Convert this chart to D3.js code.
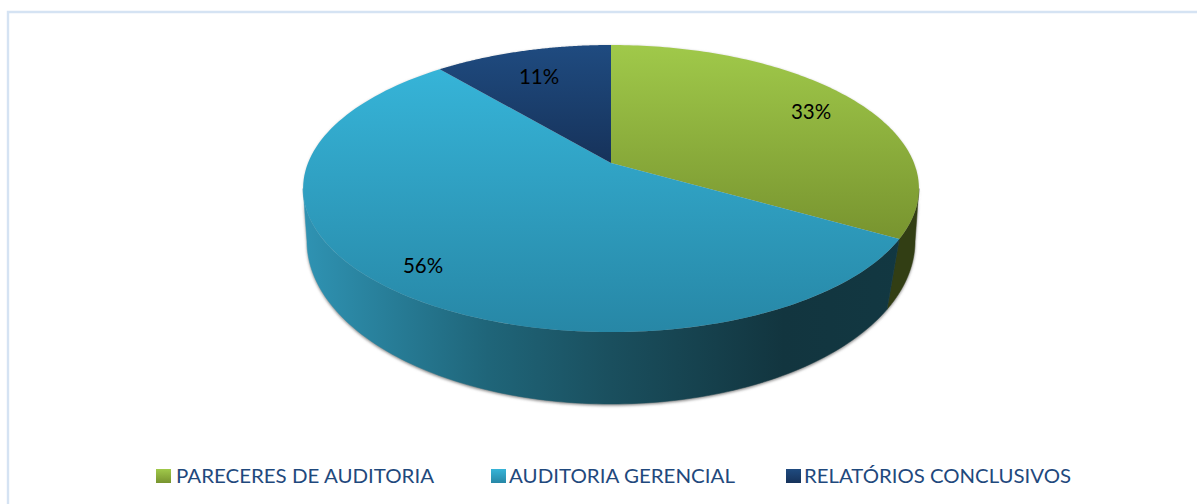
<!DOCTYPE html>
<html><head><meta charset="utf-8">
<style>html,body{margin:0;padding:0;background:#fff}svg{display:block}</style>
<script src="https://cdn.jsdelivr.net/npm/d3@7"></script>
</head><body>
<svg id="c" width="1197" height="504"></svg>
<script>
const categories = ["PARECERES DE AUDITORIA", "AUDITORIA GERENCIAL", "RELATÓRIOS CONCLUSIVOS"];
const values = [33.3, 55.6, 11.1];
const labels = ["33%", "56%", "11%"];
const topColors = [["#a0c94a", "#78942f"], ["#36b4d8", "#2787a6"], ["#1f4b80", "#16325a"]];
const blueWall = [[0,"#2f93b3"],[0.3,"#1f6579"],[0.5,"#1a4f5e"],[0.78,"#12353f"],[1,"#123842"]];
const greenWall = "#323e14";
const navyWall = "#16325a";
const legendX = [156, 491, 786];
const legendTextX = [176, 509, 804];
const legendTextW = [258, 226, 267];

const svg = d3.select("#c"), defs = svg.append("defs");
const topRim = {x0:611, y0:163, b:303, a:139, k:0.178};
const botRim = {x0:611, y0:224.7, b:302.5, a:161.4, k:0.1};
const project = (rim, t) => {
  const X = Math.sin(t), Y = -Math.cos(t), s = 1/(1-rim.k*Y);
  return [rim.x0 + rim.b*X*s, rim.y0 + rim.a*Y*s];
};
const line = d3.line();
const arcPts = (rim, a0, a1) => d3.range(0, 121).map(i => project(rim, a0 + (a1-a0)*i/120));
const rightExt = rim => Math.PI/2 + Math.asin(rim.k);
const leftExt = rim => 2*Math.PI - rightExt(rim);
const arcs = d3.pie().sort(null).value(d => d)(values);

const lg = (id, x1,y1,x2,y2, stops, units) => {
  const g = defs.append("linearGradient").attr("id", id)
    .attr("x1",x1).attr("y1",y1).attr("x2",x2).attr("y2",y2);
  if (units) g.attr("gradientUnits", units);
  stops.forEach(([o,c]) => g.append("stop").attr("offset",o).attr("stop-color",c));
};
lg("wall", 303,0,919,0, blueWall, "userSpaceOnUse");
topColors.forEach((c,i) => {
  lg("top"+i, 0,0,0,1, [[0,c[0]],[1,c[1]]]);
  lg("sw"+i, 0,0,0,1, [[0,c[0]],[1,c[1]]]);
});
defs.append("filter").attr("id","blur").attr("x","-5%").attr("y","-5%").attr("width","110%").attr("height","110%")
  .append("feGaussianBlur").attr("stdDeviation",1.6);
defs.append("filter").attr("id","blurTop").attr("x","-5%").attr("y","-5%").attr("width","110%").attr("height","110%")
  .append("feGaussianBlur").attr("stdDeviation",0.8);

// frame
svg.append("path").attr("d","M8 504V12H1197").attr("fill","none").attr("stroke","#d5e3f3").attr("stroke-width",2.4);

// soft shadows
svg.append("path").attr("d", line(arcPts(topRim, 0, 2*Math.PI))+"Z")
  .attr("fill","#d8d8d8").attr("filter","url(#blurTop)");
const hull = arcPts(topRim, rightExt(topRim), leftExt(topRim)).reverse()
  .concat(arcPts(botRim, rightExt(botRim), leftExt(botRim)).reverse().reverse());
svg.append("path").attr("d", line(hull)+"Z").attr("transform","translate(0,1.5)")
  .attr("fill","#808080").attr("filter","url(#blur)");

// walls
const wallColor = i => i===1 ? "url(#wall)" : i===0 ? greenWall : navyWall;
arcs.forEach((d,i) => {
  const t0 = Math.max(d.startAngle, rightExt(topRim)), t1 = Math.min(d.endAngle, leftExt(topRim));
  const b0 = Math.max(d.startAngle, rightExt(botRim)), b1 = Math.min(d.endAngle, leftExt(botRim));
  if (t1 <= t0 || b1 <= b0) return;
  const pts = arcPts(topRim, t0, t1).concat(arcPts(botRim, b0, b1).reverse());
  svg.append("path").attr("d", line(pts)+"Z").attr("fill", wallColor(i)).attr("stroke", wallColor(i)).attr("stroke-width",0.5);
});

// top faces
arcs.forEach((d,i) => {
  const pts = [[topRim.x0, topRim.y0]].concat(arcPts(topRim, d.startAngle, d.endAngle));
  svg.append("path").attr("d", line(pts)+"Z").attr("fill", `url(#top${i})`);
});

// data labels
const labelPos = [[811,112],[423,266],[539,77]];
labels.forEach((t,i) => {
  svg.append("text").attr("x",labelPos[i][0]).attr("y",labelPos[i][1]).attr("dy","0.35em")
    .attr("text-anchor","middle").attr("font-family","Lato").attr("font-size",20.5).attr("fill","#000").text(t);
});

// legend
categories.forEach((c,i) => {
  svg.append("rect").attr("x",legendX[i]).attr("y",469).attr("width",15).attr("height",14).attr("fill",`url(#sw${i})`);
  svg.append("text").attr("x",legendTextX[i]).attr("y",483).attr("font-family","Lato").attr("font-size",20)
    .attr("fill","#1f497d").attr("textLength",legendTextW[i]).attr("lengthAdjust","spacingAndGlyphs").text(c);
});
</script>
</body></html>
